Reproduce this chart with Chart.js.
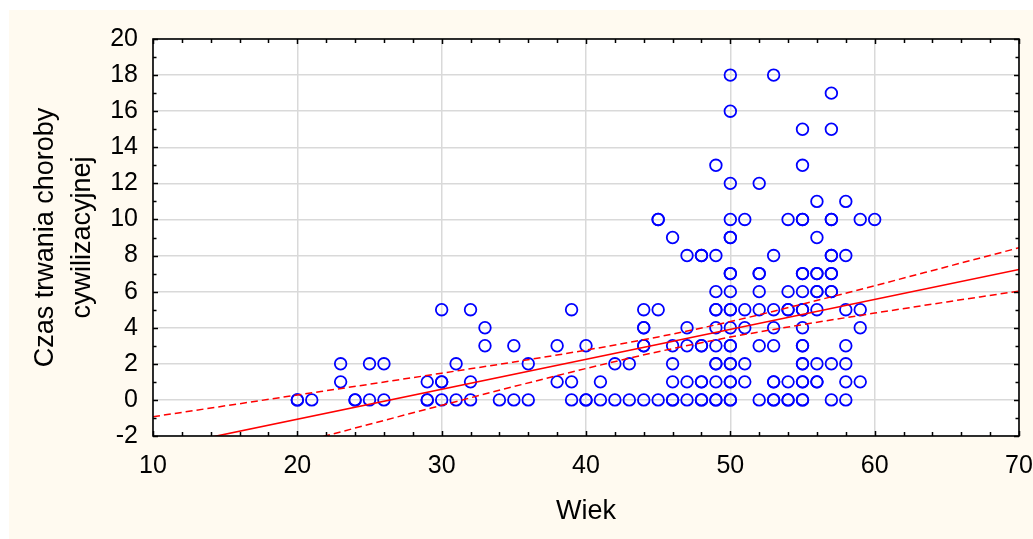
<!DOCTYPE html>
<html>
<head>
<meta charset="utf-8">
<script src="https://cdn.jsdelivr.net/npm/chart.js@4/dist/chart.umd.min.js"></script>
<style>
  html, body { margin: 0; padding: 0; background: #ffffff; overflow: hidden; }
  canvas { display: block; }
</style>
</head>
<body>
<canvas id="chart" width="1033" height="539"></canvas>
<script>
// Observations: age (Wiek) and duration of the disease, one entry per patient.
const ages = [
  20, 20, 21, 23, 23, 24, 24, 25, 25, 26, 26,
  29, 29, 29, 30, 30, 30, 30, 31, 31, 32, 32, 32, 33, 33,
  34, 35, 35, 36, 36, 38, 38, 39, 39, 39, 40, 40, 40,
  41, 41, 42, 42, 43, 43, 44, 44, 44, 44, 44, 44,
  45, 45, 45, 45, 46, 46, 46, 46, 46, 46, 47, 47, 47, 47, 47,
  48, 48, 48, 48, 48, 48, 48, 48,
  49, 49, 49, 49, 49, 49, 49, 49, 49, 49, 49, 49,
  50, 50, 50, 50, 50, 50, 50, 50, 50, 50, 50, 50, 50, 50, 50, 50, 50, 50, 50, 50,
  51, 51, 51, 51, 51,
  52, 52, 52, 52, 52, 52, 52,
  53, 53, 53, 53, 53, 53, 53, 53, 53,
  54, 54, 54, 54, 54, 54, 54,
  55, 55, 55, 55, 55, 55, 55, 55, 55, 55, 55, 55, 55, 55, 55, 55, 55, 55,
  56, 56, 56, 56, 56, 56, 56, 56, 56, 56,
  57, 57, 57, 57, 57, 57, 57, 57, 57, 57, 57, 57,
  58, 58, 58, 58, 58, 58, 58,
  59, 59, 59, 59,
  60
];
const durations = [
  0, 0, 0, 2, 1, 0, 0, 2, 0, 2, 0,
  1, 0, 0, 5, 1, 1, 0, 2, 0, 5, 1, 0, 4, 3,
  0, 3, 0, 2, 0, 3, 1, 5, 1, 0, 3, 0, 0,
  1, 0, 2, 0, 2, 0, 5, 4, 4, 3, 3, 0,
  10, 10, 5, 0, 9, 3, 2, 1, 0, 0, 8, 4, 3, 1, 0,
  8, 8, 3, 3, 1, 1, 0, 0,
  13, 8, 6, 5, 5, 4, 3, 2, 2, 1, 0, 0,
  18, 16, 12, 10, 9, 9, 7, 7, 6, 5, 5, 4, 3, 3, 2, 2, 1, 1, 0, 0,
  10, 5, 4, 2, 1,
  12, 7, 7, 6, 5, 3, 0,
  18, 8, 5, 4, 3, 1, 1, 0, 0,
  10, 6, 5, 5, 1, 0, 0,
  15, 13, 10, 10, 7, 7, 6, 5, 5, 4, 3, 3, 2, 2, 1, 1, 0, 0,
  11, 9, 7, 7, 6, 6, 5, 2, 1, 1,
  17, 15, 10, 10, 8, 8, 7, 7, 6, 6, 2, 0,
  11, 8, 5, 3, 2, 1, 0,
  10, 5, 4, 1,
  10
];

// Fitted regression line and its 95% confidence limits
const fitAges = [10, 70];
const fitValues = [-2.73, 7.23];
const bandAges = [10, 15, 20, 25, 30, 35, 40, 45, 50, 55, 60, 65, 70];
const bandUpper = [-0.93, -0.33, 0.27, 0.87, 1.48, 2.10, 2.76, 3.49, 4.34, 5.31, 6.33, 7.38, 8.43];
const bandLower = [-4.53, -3.47, -2.41, -1.35, -0.30, 0.74, 1.74, 2.67, 3.48, 4.17, 4.81, 5.43, 6.03];

// Axis ticks and titles
const xTickValues = [10, 20, 30, 40, 50, 60, 70];
const yTickValues = [-2, 0, 2, 4, 6, 8, 10, 12, 14, 16, 18, 20];
const xMinorStep = 2;
const yMinorStep = 1;
const xTitle = 'Wiek';
const yTitle = ['Czas trwania choroby', 'cywilizacyjnej'];

const FONT = '"Liberation Sans", Arial, Helvetica, sans-serif';

const pairs = (xs, ys) => xs.map((x, i) => ({ x: x, y: ys[i] }));

// Paints the cream page, the white plotting area, the black frame and inward ticks
const framePlugin = {
  id: 'frame',
  beforeDraw(chart) {
    const { ctx, chartArea: a, width, height } = chart;
    ctx.save();
    ctx.fillStyle = '#ffffff';
    ctx.fillRect(0, 0, width, height);
    ctx.fillStyle = '#fffaf0';
    ctx.fillRect(9, 10, width - 9, height - 10);
    ctx.fillStyle = '#ffffff';
    ctx.fillRect(a.left, a.top, a.right - a.left, a.bottom - a.top);
    ctx.restore();
  },
  afterDatasetsDraw(chart) {
    const { ctx, chartArea: a, scales } = chart;
    const xs = scales.x, ys = scales.y;
    ctx.save();
    ctx.strokeStyle = '#000000';
    ctx.lineWidth = 1.5;
    ctx.beginPath();
    for (let v = xs.min; v <= xs.max + 1e-9; v += xMinorStep) {
      const px = Math.round(xs.getPixelForValue(v)) + 0.5;
      const len = xTickValues.includes(v) ? 5 : 4;
      ctx.moveTo(px, a.bottom); ctx.lineTo(px, a.bottom - len);
      ctx.moveTo(px, a.top); ctx.lineTo(px, a.top + len);
    }
    for (let v = ys.min; v <= ys.max + 1e-9; v += yMinorStep) {
      const py = Math.round(ys.getPixelForValue(v)) + 0.5;
      const len = yTickValues.includes(v) ? 5 : 3.5;
      ctx.moveTo(a.left, py); ctx.lineTo(a.left + len, py);
      ctx.moveTo(a.right, py); ctx.lineTo(a.right - len, py);
    }
    ctx.stroke();
    ctx.lineWidth = 1.6;
    ctx.strokeRect(a.left, a.top, a.right - a.left, a.bottom - a.top);
    ctx.restore();
  }
};

new Chart(document.getElementById('chart'), {
  type: 'scatter',
  data: {
    datasets: [
      {
        label: 'Przedział ufności (górny)',
        data: pairs(bandAges, bandUpper),
        showLine: true,
        borderColor: '#ff0000',
        borderWidth: 1.5,
        borderDash: [7, 4],
        cubicInterpolationMode: 'monotone',
        pointRadius: 0,
        pointHoverRadius: 0,
        fill: false,
        order: 0
      },
      {
        label: 'Przedział ufności (dolny)',
        data: pairs(bandAges, bandLower),
        showLine: true,
        borderColor: '#ff0000',
        borderWidth: 1.5,
        borderDash: [7, 4],
        cubicInterpolationMode: 'monotone',
        pointRadius: 0,
        pointHoverRadius: 0,
        fill: false,
        order: 0
      },
      {
        label: 'Regresja',
        data: pairs(fitAges, fitValues),
        showLine: true,
        borderColor: '#ff0000',
        borderWidth: 1.6,
        pointRadius: 0,
        pointHoverRadius: 0,
        fill: false,
        order: 1
      },
      {
        label: 'Obserwacje',
        data: pairs(ages, durations),
        pointStyle: 'circle',
        pointRadius: 5.8,
        pointHoverRadius: 5.8,
        borderWidth: 1.8,
        pointBorderWidth: 1.8,
        borderColor: '#0000ff',
        backgroundColor: 'rgba(0,0,0,0)',
        order: 2
      }
    ]
  },
  options: {
    responsive: false,
    animation: false,
    events: [],
    layout: { padding: { top: 39, right: 14, left: 0, bottom: 0 } },
    plugins: {
      legend: { display: false },
      tooltip: { enabled: false }
    },
    scales: {
      x: {
        type: 'linear',
        min: 10,
        max: 70,
        afterBuildTicks(scale) { scale.ticks = xTickValues.map(v => ({ value: v })); },
        afterFit(scale) {
          scale.height = 103;
          scale.paddingLeft = 0;
          scale.paddingRight = 0;
        },
        border: { display: false },
        grid: { color: '#d9d9d9', lineWidth: 1.5, drawTicks: false },
        ticks: {
          padding: 15,
          color: '#000000',
          maxRotation: 0,
          autoSkip: false,
          font: { family: FONT, size: 25 }
        },
        title: {
          display: true,
          text: xTitle,
          color: '#000000',
          font: { family: FONT, size: 27 },
          padding: { top: 0, bottom: 11 }
        }
      },
      y: {
        type: 'linear',
        min: -2,
        max: 20,
        afterBuildTicks(scale) { scale.ticks = yTickValues.map(v => ({ value: v })); },
        afterFit(scale) {
          scale.width = 153;
          scale.paddingTop = 0;
          scale.paddingBottom = 0;
        },
        border: { display: false },
        grid: { color: '#d9d9d9', lineWidth: 1.5, drawTicks: false },
        ticks: {
          padding: 15,
          color: '#000000',
          autoSkip: false,
          font: { family: FONT, size: 25 }
        },
        title: {
          display: true,
          text: yTitle,
          color: '#000000',
          font: { family: FONT, size: 27, lineHeight: 1.37 },
          padding: { top: 27, bottom: 0 }
        }
      }
    }
  },
  plugins: [framePlugin]
});
</script>
</body>
</html>
